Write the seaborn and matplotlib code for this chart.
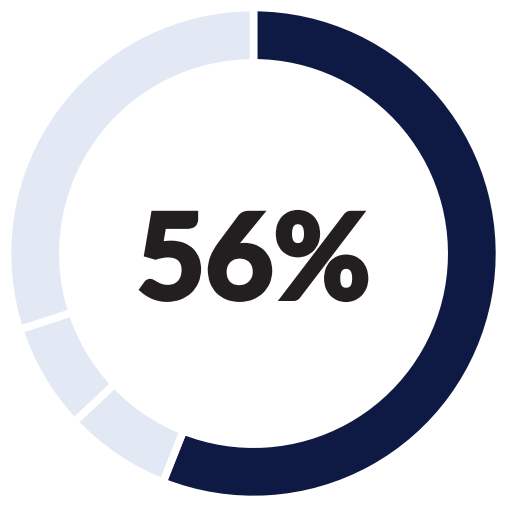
import matplotlib.pyplot as plt
import matplotlib.patheffects as pe
import seaborn as sns

# Donut segments (percent), drawn clockwise from 12 o'clock
labels = ["Yes", "Segment B", "Segment C", "Rest"]
values = [56, 7, 7, 30]
colors = ["#0e1a44", "#e2e8f4", "#e2e8f4", "#e2e8f4"]
center_text = "56%"

sns.set_style("white")
plt.rcParams['font.family'] = ['Lato', 'DejaVu Sans']

fig = plt.figure(figsize=(5.07, 5.07), dpi=100)
ax = fig.add_axes([0, 0, 1, 1])

ax.pie(values,
       colors=colors,
       startangle=90,
       counterclock=False,
       radius=1.0,
       wedgeprops=dict(width=0.225, edgecolor="white", linewidth=5.5))

lim = 253.5 / 246
ax.set_xlim(-lim, lim)
ax.set_ylim(-lim, lim)
ax.set_aspect("equal")
ax.axis("off")

# heavier look, like the original's black weight
ax.text(0, -0.045, center_text, ha="center", va="center",
        fontsize=85, fontweight="bold", color="#231f20",
        path_effects=[pe.withStroke(linewidth=3.5, foreground="#231f20",
                                    joinstyle="miter")])

plt.savefig("out.png", dpi=100, facecolor="white")
